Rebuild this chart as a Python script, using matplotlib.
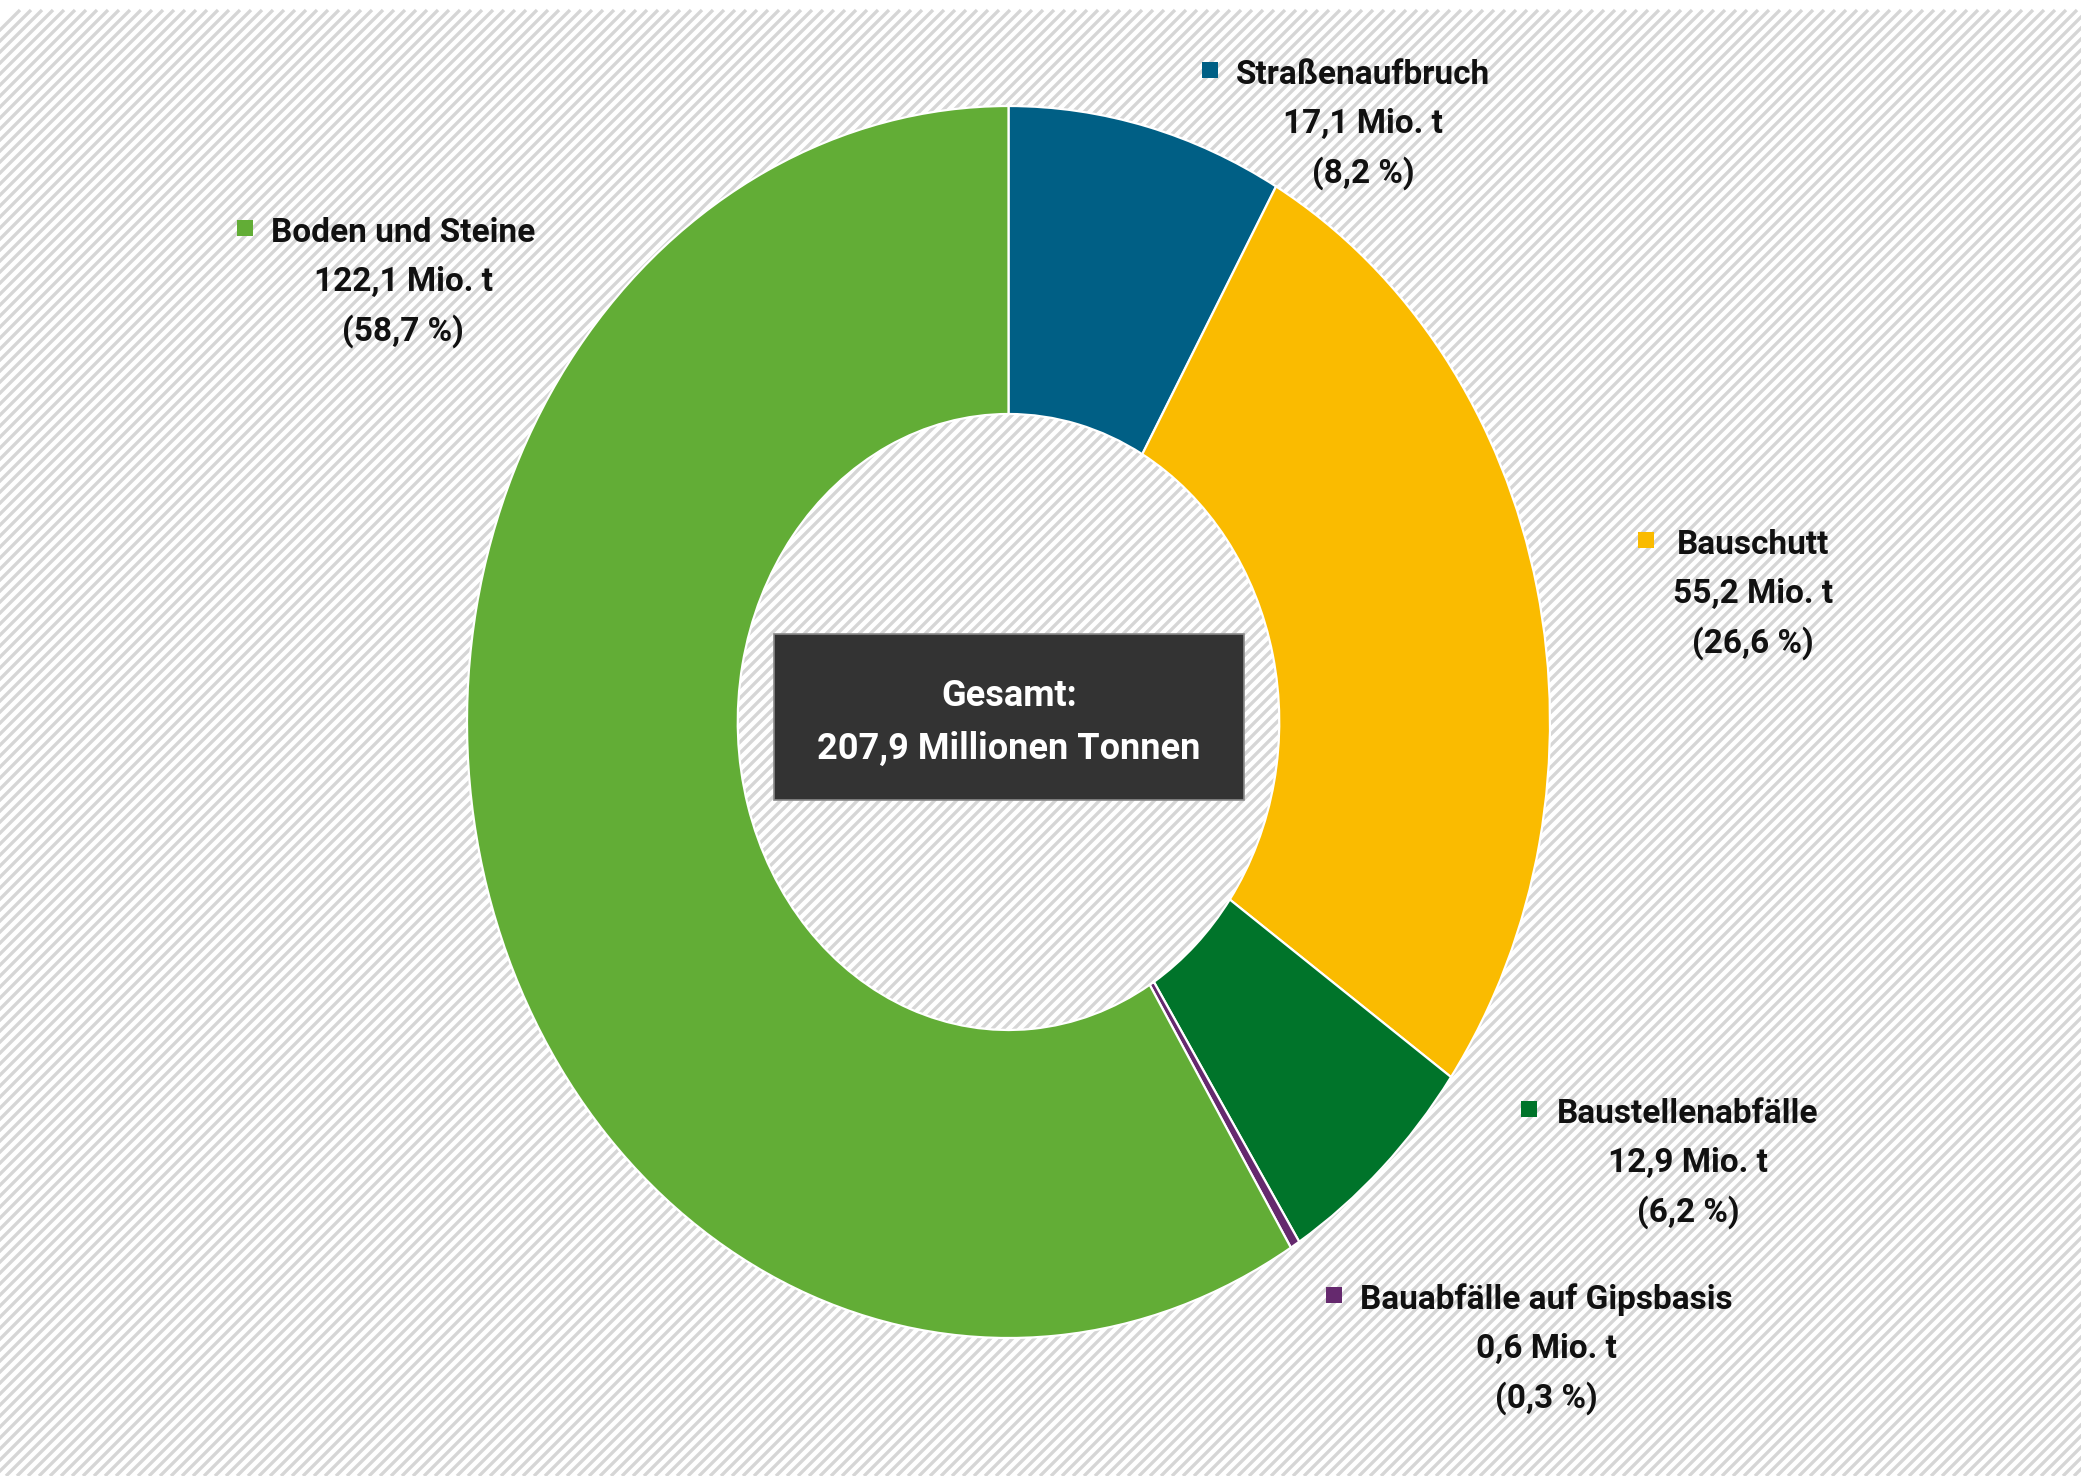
import matplotlib
matplotlib.use("Agg")
import matplotlib.pyplot as plt
from matplotlib.patches import Rectangle
from matplotlib.collections import LineCollection
import numpy as np

# ---- data ----
categories = ["Straßenaufbruch", "Bauschutt", "Baustellenabfälle",
              "Bauabfälle auf Gipsbasis", "Boden und Steine"]
values = [17.1, 55.2, 12.9, 0.6, 122.1]           # Mio. t
percents = [8.2, 26.6, 6.2, 0.3, 58.7]            # %
total_label = "207,9 Millionen Tonnen"
colors = ["#005F85", "#FABB00", "#00742A", "#65296E", "#62AD36"]

# label anchor positions (pixel layout: text centre x, first-line y, marker x)
label_pos = {
    "Straßenaufbruch": (1363, 75, 1210),
    "Bauschutt": (1753, 545, 1646),
    "Baustellenabfälle": (1688, 1114, 1529),
    "Bauabfälle auf Gipsbasis": (1546, 1300, 1334),
    "Boden und Steine": (403, 233, 245),
}

W, H = 2081, 1476
fig = plt.figure(figsize=(W / 100, H / 100), dpi=100)
fig.patch.set_facecolor("white")

FONT = ["Liberation Sans Narrow", "Roboto", "DejaVu Sans"]

# ---- background with diagonal hatching ----
bg = fig.add_axes([0, 0, 1, 1])
bg.set_xlim(0, W)
bg.set_ylim(H, 0)
bg.axis("off")
x0, y0 = 20, 10
rect = Rectangle((x0, y0), W - x0, H - y0, facecolor="white", edgecolor="none", zorder=0)
bg.add_patch(rect)
spacing = 11
segs = []
for c in np.arange(x0 - (H - y0), W + 10, spacing):
    segs.append([(c, H), (c + (H - y0), y0)])
lc = LineCollection(segs, colors="#d6d6d6", linewidths=2.4, zorder=1)
lc.set_clip_path(rect)
bg.add_collection(lc)

# ---- donut (elliptical, as in reference) ----
cx, cy, rx, ry = 1008.5, 722, 541.5, 616
pax = fig.add_axes([(cx - rx) / W, (H - cy - ry) / H, 2 * rx / W, 2 * ry / H])
pax.pie(values, colors=colors, startangle=90, counterclock=False, radius=1,
        wedgeprops=dict(width=0.5, edgecolor="white", linewidth=1.6))
pax.set_aspect("auto")
pax.set_xlim(-1, 1)
pax.set_ylim(-1, 1)
pax.axis("off")

# ---- labels ----
ov = fig.add_axes([0, 0, 1, 1])
ov.set_xlim(0, W)
ov.set_ylim(H, 0)
ov.axis("off")
ov.patch.set_alpha(0)

def fmt(v):
    return f"{v:.1f}".replace(".", ",")

for cat, v, p, col in zip(categories, values, percents, colors):
    tx, ty, mx = label_pos[cat]
    lines = [cat, f"{fmt(v)} Mio. t", f"({fmt(p)} %)"]
    for i, line in enumerate(lines):
        ov.text(tx, ty + i * 49, line, ha="center", va="center", fontsize=24,
                fontweight="bold", family=FONT, color="#111111")
    ov.plot([mx], [ty - 5], marker="s", markersize=12, color=col, markeredgewidth=0)

# ---- centre box ----
ov.add_patch(Rectangle((774, 634), 470, 166, facecolor="#333333",
                       edgecolor="#8a8a8a", linewidth=1.2, zorder=5))
ov.text(1009, 696, "Gesamt:", ha="center", va="center", fontsize=26,
        fontweight="bold", family=FONT, color="white", zorder=6)
ov.text(1009, 749, total_label, ha="center", va="center", fontsize=26,
        fontweight="bold", family=FONT, color="white", zorder=6)

fig.savefig("out.png", dpi=100, facecolor="white")
